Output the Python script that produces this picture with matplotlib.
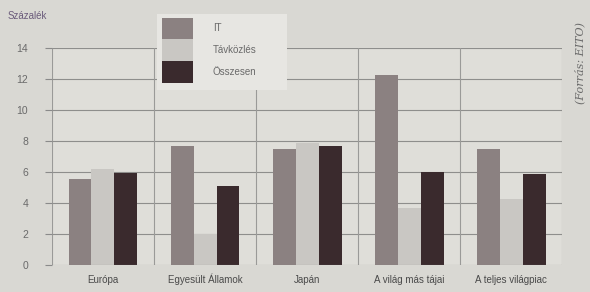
import numpy as np
import matplotlib
matplotlib.use('Agg')
import matplotlib.pyplot as plt
from matplotlib.patches import Rectangle

# values (percent)
regions = ['Európa', 'Egyesült Államok', 'Japán', 'A világ más tájai', 'A teljes világpiac']
it_vals = [5.6, 7.7, 7.5, 12.3, 7.5]
tav_vals = [6.2, 2.0, 7.9, 3.7, 4.3]
ossz_vals = [5.95, 5.15, 7.7, 6.0, 5.9]
series_names = ['IT', 'Távközlés', 'Összesen']
yticks = [0, 2, 4, 6, 8, 10, 12, 14]

colors = ['#8b8181', '#c9c7c3', '#3a2a2d']
bg = '#d9d8d3'
plt.rcParams['font.family'] = ['Liberation Sans', 'DejaVu Sans']

fig = plt.figure(figsize=(5.9, 2.92), dpi=100)
fig.patch.set_facecolor(bg)
ax = fig.add_axes([0.088, 0.091, 0.865, 0.744])
ax.set_facecolor('#dfded9')

x = np.arange(len(regions))
w = 0.225
bars = []
for k, vals in enumerate([it_vals, tav_vals, ossz_vals]):
    b = ax.bar(x + (k - 1) * w, vals, width=w, color=colors[k], zorder=3, label=series_names[k])
    bars.append(b)

ax.set_xlim(-0.5, len(regions) - 0.5)
ax.set_ylim(0, 14)
ax.set_yticks(yticks)
ax.set_yticklabels([str(t) for t in yticks], fontsize=7.5, color='#6a6a6a')
ax.set_xticks(x)
ax.set_xticklabels(regions, fontsize=7, color='#4a4a4a')
ax.tick_params(axis='y', length=5, color='#8a8a8a', pad=12)
ax.tick_params(axis='x', length=0, pad=13)
for lbl in ax.get_xticklabels():
    lbl.set_va('baseline')  # keep accented label on same baseline

# grid: horizontal at ticks, vertical between groups
for t in yticks[1:]:
    ax.axhline(t, color='#8e8e8c', lw=0.8, zorder=1)
for b in np.arange(-0.5, len(regions), 1.0):
    ax.axvline(b, color='#9a9a98', lw=0.8, zorder=1)
for s in ax.spines.values():
    s.set_visible(False)
ax.axhline(0, color='#8e8e8c', lw=0.8, zorder=4)

fig.text(0.012, 0.935, 'Százalék', fontsize=7, color='#6a5a7a')
fig.text(0.982, 0.785, '(Forrás: EITO)', rotation=90, fontsize=8, color='#6a6a6a',
         style='italic', family='DejaVu Serif', ha='center', va='center')

# legend box drawn separately so its size matches the scan
fig.patches.append(Rectangle((157 / 590, 1 - 90 / 292), 130 / 590, 76 / 292,
                             transform=fig.transFigure, facecolor='#e7e6e2',
                             edgecolor='none', zorder=5))
leg = fig.legend(handles=bars, labels=series_names, loc='upper left',
                 bbox_to_anchor=(0.275, 0.94), fontsize=7, frameon=False,
                 handlelength=3.2, handleheight=3.1, labelspacing=0.0,
                 handletextpad=2.0, borderpad=0, borderaxespad=0)
leg.set_zorder(6)
for t in leg.get_texts():
    t.set_color('#6a6a6a')

fig.savefig('out.png', dpi=100, facecolor=bg)
